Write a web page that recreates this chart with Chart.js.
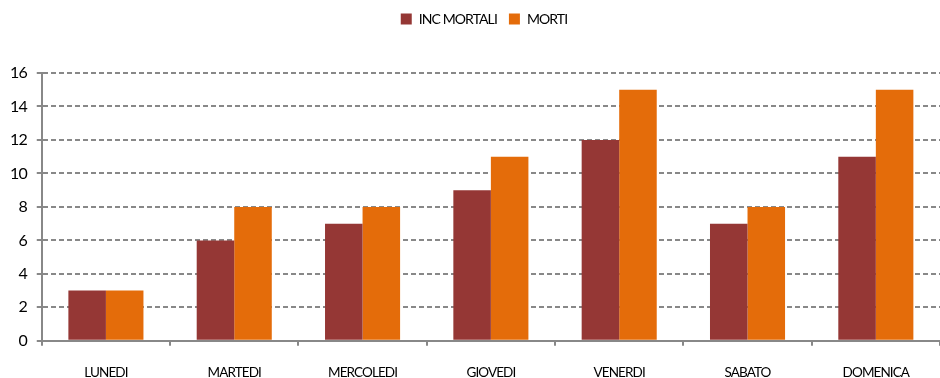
<!DOCTYPE html>
<html>
<head>
<meta charset="utf-8">
<script src="https://cdn.jsdelivr.net/npm/chart.js@4"></script>
<style>
  html, body { margin: 0; padding: 0; background: #fff; }
  #wrap { width: 940px; height: 378px; }
</style>
</head>
<body>
<div id="wrap"><canvas id="mychart" width="940" height="378"></canvas></div>
<script>
const giorni = ['LUNEDI', 'MARTEDI', 'MERCOLEDI', 'GIOVEDI', 'VENERDI', 'SABATO', 'DOMENICA'];
const incMortali = [3, 6, 7, 9, 12, 7, 11];
const morti = [3, 8, 8, 11, 15, 8, 15];

const font = "Lato, 'Liberation Sans', sans-serif";
const ctx = document.getElementById('mychart').getContext('2d');

// tighter text, like the condensed office font
const tightText = {
    id: 'tightText',
    beforeUpdate(chart) { chart.ctx.letterSpacing = '-0.9px'; },
    beforeLayout(chart) { chart.ctx.letterSpacing = '-0.9px'; },
    beforeDraw(chart) { chart.ctx.letterSpacing = '-0.9px'; }
};

// more room under the legend, and nudge it a bit right
const legendGap = {
    id: 'legendGap',
    beforeInit(chart) {
        const fit = chart.legend.fit;
        chart.legend.fit = function () {
            fit.bind(chart.legend)();
            this.height += 37;
        };
    },
    afterLayout(chart) {
        chart.legend.left += 14;
        chart.legend.right += 14;
    }
};

new Chart(ctx, {
    type: 'bar',
    data: {
        labels: giorni,
        datasets: [{
                label: 'INC MORTALI',
                data: incMortali,
                backgroundColor: '#953735'
            },
            {
                label: 'MORTI',
                data: morti,
                backgroundColor: '#E46C0A'
            }
        ]
    },
    plugins: [tightText, legendGap],
    options: {
        responsive: false,
        animation: false,
        layout: { padding: { left: 0, right: 0, top: 0, bottom: -22 } },
        datasets: {
            bar: { categoryPercentage: 0.585, barPercentage: 1.0 }
        },
        plugins: {
            legend: {
                position: 'top',
                labels: {
                    boxWidth: 11,
                    boxHeight: 11,
                    color: '#000',
                    padding: 12,
                    font: { family: font, size: 14 }
                }
            },
            tooltip: { enabled: false }
        },
        scales: {
            x: {
                grid: {
                    display: true,
                    drawOnChartArea: false,
                    drawTicks: true,
                    tickLength: 5,
                    offset: true,
                    color: '#888',
                    lineWidth: 2
                },
                border: { color: '#888', width: 2 },
                ticks: {
                    color: '#000',
                    padding: 19,
                    font: { family: font, size: 13.5 }
                }
            },
            y: {
                min: 0,
                max: 16,
                ticks: {
                    stepSize: 2,
                    color: '#000',
                    padding: 10,
                    font: { family: font, size: 16 }
                },
                grid: {
                    color: '#888',
                    lineWidth: 2,
                    tickLength: 5,
                    tickBorderDash: [],
                    drawTicks: true
                },
                border: { color: '#888', width: 2, dash: [5, 3] }
            }
        }
    }
});
</script>
</body>
</html>
